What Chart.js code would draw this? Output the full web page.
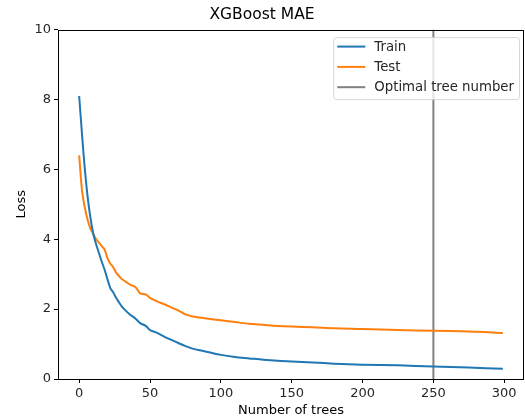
<!DOCTYPE html>
<html>
<head>
<meta charset="utf-8">
<script src="https://cdn.jsdelivr.net/npm/chart.js@4.4.0/dist/chart.umd.min.js"></script>
<style>
  body { margin: 0; background: #fff; }
  #chart { display: block; }
</style>
</head>
<body>
<canvas id="chart" width="525" height="420"></canvas>
<script>
var trees = [0, 2, 4, 6, 8, 10, 12, 14, 16, 18, 20, 22, 24, 26, 28, 30, 33, 36, 40, 43, 47, 50,
    55, 60, 65, 70, 75, 80, 85, 90, 100, 110, 120, 130, 140, 150, 165, 180, 200, 225, 250, 275, 299];

var trainLoss = [8.1, 7.0, 6.0, 5.2, 4.6, 4.15, 3.85, 3.6, 3.35, 3.12, 2.85, 2.6, 2.48, 2.33, 2.2, 2.08, 1.95, 1.84, 1.72, 1.60, 1.52, 1.40,
    1.32, 1.21, 1.12, 1.03, 0.94, 0.87, 0.82, 0.78, 0.69, 0.63, 0.59, 0.55, 0.52, 0.50, 0.47, 0.44, 0.41, 0.39, 0.36, 0.33, 0.29];

var testLoss = [6.4, 5.4, 4.9, 4.55, 4.3, 4.15, 4.0, 3.9, 3.8, 3.7, 3.45, 3.3, 3.2, 3.05, 2.95, 2.86, 2.78, 2.70, 2.62, 2.45, 2.42, 2.32,
    2.22, 2.14, 2.05, 1.96, 1.85, 1.79, 1.76, 1.73, 1.68, 1.63, 1.58, 1.55, 1.52, 1.50, 1.48, 1.45, 1.43, 1.40, 1.38, 1.36, 1.32];

var optimalTree = 250;
var xTicks = [0, 50, 100, 150, 200, 250, 300];
var yTicks = [0, 2, 4, 6, 8, 10];

var FONT = 'DejaVu Sans';

function toPoints(xs, ys) {
    var pts = [];
    for (var i = 0; i < xs.length; i++) {
        pts.push({x: xs[i], y: ys[i]});
    }
    return pts;
}

// box around the axes (matplotlib spines)
var frame = {
    id: 'frame',
    afterDatasetsDraw: function(chart) {
        var a = chart.chartArea;
        var ctx = chart.ctx;
        ctx.save();
        ctx.strokeStyle = '#000';
        ctx.lineWidth = 1;
        ctx.strokeRect(Math.round(a.left) + 0.5, Math.round(a.top) + 0.5,
            Math.round(a.right - a.left) - 1, Math.round(a.bottom - a.top));
        ctx.restore();
    }
};

// legend drawn inside the plot, upper right
var boxLegend = {
    id: 'boxLegend',
    afterDatasetsDraw: function(chart) {
        var a = chart.chartArea;
        var ctx = chart.ctx;
        var ds = chart.data.datasets;
        ctx.save();
        ctx.font = '13.3px "' + FONT + '"';
        var maxW = 0;
        for (var i = 0; i < ds.length; i++) {
            maxW = Math.max(maxW, ctx.measureText(ds[i].label).width);
        }
        var w = 4 + 28 + 9 + maxW + 5;
        var h = 62;
        var right = a.right - 5;
        var left = right - w;
        var top = a.top + 7.5;

        ctx.beginPath();
        ctx.roundRect(left + 0.5, top + 0.5, w, h, 3);
        ctx.fillStyle = 'rgba(255,255,255,0.8)';
        ctx.fill();
        ctx.strokeStyle = 'rgba(204,204,204,0.8)';
        ctx.lineWidth = 1;
        ctx.stroke();

        ctx.textBaseline = 'middle';
        ctx.textAlign = 'left';
        for (var j = 0; j < ds.length; j++) {
            var y = top + 9.5 + j * 20.3;
            ctx.beginPath();
            ctx.moveTo(left + 4, y);
            ctx.lineTo(left + 32, y);
            ctx.strokeStyle = ds[j].borderColor;
            ctx.lineWidth = 2;
            ctx.stroke();
            ctx.fillStyle = '#262626';
            ctx.fillText(ds[j].label, left + 41, y + 0.5);
        }
        ctx.restore();
    }
};

var ctx = document.getElementById('chart');
var chart = new Chart(ctx, {
    type: 'line',
    data: {
        datasets: [{
            label: 'Train',
            data: toPoints(trees, trainLoss),
            borderColor: '#1f77b4',
            borderWidth: 2,
            pointRadius: 0,
            tension: 0.3
        }, {
            label: 'Test',
            data: toPoints(trees, testLoss),
            borderColor: '#ff7f0e',
            borderWidth: 2,
            pointRadius: 0,
            tension: 0.3
        }, {
            label: 'Optimal tree number',
            data: [{x: optimalTree, y: yTicks[0]}, {x: optimalTree, y: yTicks[yTicks.length - 1]}],
            borderColor: '#808080',
            borderWidth: 2,
            pointRadius: 0
        }]
    },
    options: {
        responsive: false,
        devicePixelRatio: 1,
        animation: false,
        layout: {padding: {top: 0, right: 1, left: 0, bottom: 0}},
        plugins: {
            legend: {display: false},
            tooltip: {enabled: false},
            title: {
                display: true,
                text: 'XGBoost MAE',
                color: '#000',
                font: {family: FONT, size: 15.5, weight: 'normal', lineHeight: 1.2},
                padding: {top: 6, bottom: 5}
            }
        },
        scales: {
            x: {
                type: 'linear',
                min: -14.95,
                max: 313.95,
                afterBuildTicks: function(axis) {
                    axis.ticks = xTicks.map(function(v) { return {value: v}; });
                },
                afterFit: function(axis) { axis.height = 41; },
                border: {display: false},
                grid: {drawOnChartArea: false, drawTicks: true, tickLength: 4, color: '#000'},
                ticks: {color: '#262626', font: {family: FONT, size: 13}, padding: 3, maxRotation: 0},
                title: {
                    display: true,
                    text: 'Number of trees',
                    color: '#000',
                    font: {family: FONT, size: 13},
                    padding: {top: 0, bottom: 2}
                }
            },
            y: {
                type: 'linear',
                min: 0,
                max: 10,
                afterBuildTicks: function(axis) {
                    axis.ticks = yTicks.map(function(v) { return {value: v}; });
                },
                afterFit: function(axis) { axis.width = 58; },
                border: {display: false},
                grid: {drawOnChartArea: false, drawTicks: true, tickLength: 4, color: '#000'},
                ticks: {color: '#262626', font: {family: FONT, size: 13}, padding: 3},
                title: {
                    display: true,
                    text: 'Loss',
                    color: '#000',
                    font: {family: FONT, size: 13},
                    padding: {top: 14, bottom: 0}
                }
            }
        }
    },
    plugins: [frame, boxLegend]
});
</script>
</body>
</html>
